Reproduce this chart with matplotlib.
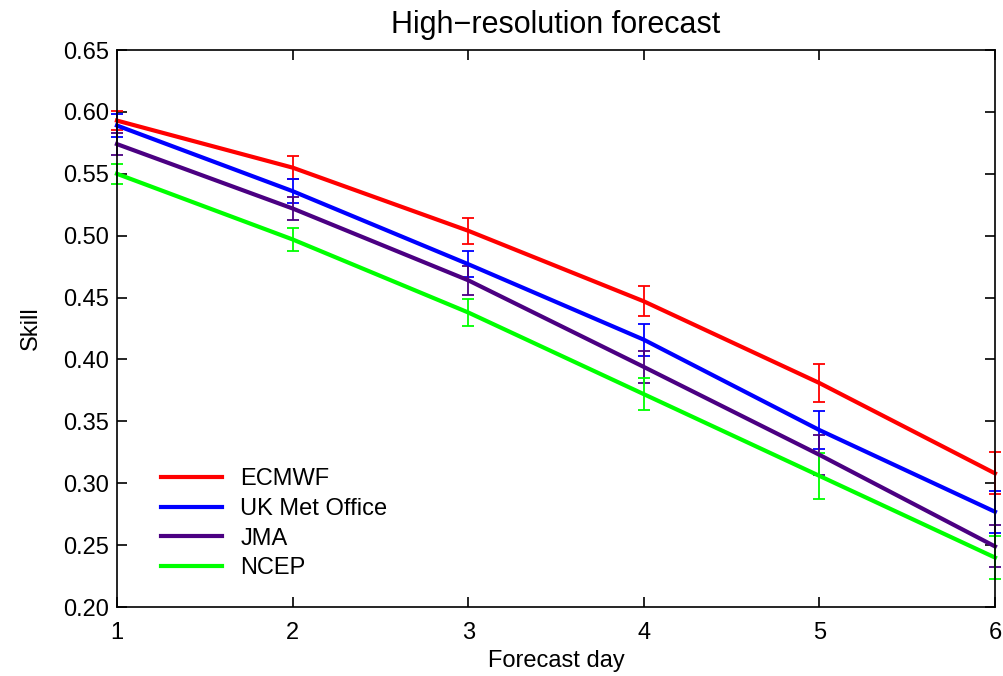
import matplotlib
matplotlib.use("Agg")
import matplotlib.pyplot as plt
from matplotlib.lines import Line2D

days = [1, 2, 3, 4, 5, 6]
ecmwf = [0.593, 0.555, 0.504, 0.447, 0.381, 0.308]
ecmwf_err = [0.008, 0.009, 0.0105, 0.012, 0.0155, 0.017]
ukmo = [0.589, 0.536, 0.477, 0.416, 0.343, 0.277]
ukmo_err = [0.009, 0.0095, 0.0105, 0.013, 0.0155, 0.017]
jma = [0.574, 0.522, 0.464, 0.394, 0.323, 0.249]
jma_err = [0.009, 0.0093, 0.0117, 0.013, 0.016, 0.017]
ncep = [0.550, 0.497, 0.438, 0.372, 0.306, 0.240]
ncep_err = [0.008, 0.009, 0.0107, 0.013, 0.0185, 0.017]

names = ["ECMWF", "UK Met Office", "JMA", "NCEP"]
colors = ["#ff0000", "#0000ff", "#4b0082", "#00ff00"]
yticks = [0.20, 0.25, 0.30, 0.35, 0.40, 0.45, 0.50, 0.55, 0.60, 0.65]

plt.rcParams['font.family'] = ['Liberation Sans', 'DejaVu Sans']

fig = plt.figure(figsize=(10.04, 6.76), dpi=100)
ax = fig.add_axes([0.1165, 0.102, 0.8745, 0.824])

series = [(ecmwf, ecmwf_err), (ukmo, ukmo_err), (jma, jma_err), (ncep, ncep_err)]
for (vals, errs), name, c in zip(series, names, colors):
    ax.errorbar(days, vals, yerr=errs, color=c, lw=3, elinewidth=1.3,
                capsize=4, capthick=1.3, label=name, clip_on=False)

ax.set_xlim(1, 6)
ax.set_ylim(0.20, 0.65)
ax.set_xticks(days)
ax.set_yticks(yticks)
ax.set_yticklabels([f"{v:.2f}" for v in yticks])
ax.tick_params(direction='in', top=True, right=True, length=7, width=1.2,
               labelsize=17)
ax.tick_params(axis='x', pad=11)
ax.tick_params(axis='y', pad=6)
for s in ax.spines.values():
    s.set_linewidth(1.2)
ax.set_title("High\u2212resolution forecast", fontsize=22, pad=12)
ax.set_xlabel("Forecast day", fontsize=17, labelpad=4)
ax.set_ylabel("Skill", fontsize=17, labelpad=15)

lh = [Line2D([0], [0], color=c, lw=3) for c in colors]
ax.legend(lh, names, loc='lower left', frameon=False, fontsize=17,
          handlelength=2.6, handletextpad=0.75, labelspacing=0.32,
          bbox_to_anchor=(0.026, 0.012))

fig.savefig("out.png", dpi=100)
